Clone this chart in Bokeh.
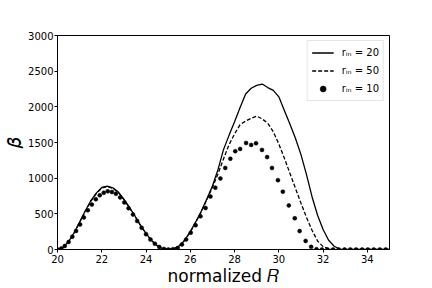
from bokeh.plotting import figure
from bokeh.models import Range1d, FixedTicker, Legend, LegendItem
from bokeh.embed import file_html
from bokeh.resources import INLINE

# r_in = 20 (solid)
solid_x = [20.0, 20.25, 20.5, 20.75, 21.0, 21.25, 21.5, 21.75, 22.0, 22.25, 22.5, 22.75,
           23.0, 23.25, 23.5, 23.75, 24.0, 24.25, 24.5, 24.75, 25.0, 25.25, 25.5, 25.75,
           26.0, 26.25, 26.5, 26.75, 27.0, 27.25, 27.5, 27.75, 28.0, 28.25, 28.5, 28.75,
           29.0, 29.25, 29.5, 29.75, 30.0, 30.25, 30.5, 30.75, 31.0, 31.25, 31.5, 31.75,
           32.0, 32.25, 32.5, 32.75, 33.0, 34.0, 35.0]
solid_y = [0, 30, 110, 235, 385, 540, 680, 790, 870, 890, 865, 805,
           705, 590, 470, 340, 225, 125, 55, 12, 0, 10, 50, 130,
           250, 390, 540, 710, 890, 1120, 1400, 1600, 1790, 1990, 2180, 2260,
           2300, 2320, 2270, 2230, 2140, 1950, 1760, 1560, 1330, 1050, 740, 480,
           280, 130, 45, 5, 0, 0, 0]

# r_in = 50 (dashed)
dash_x = [20.0, 20.25, 20.5, 20.75, 21.0, 21.25, 21.5, 21.75, 22.0, 22.25, 22.5, 22.75,
          23.0, 23.25, 23.5, 23.75, 24.0, 24.25, 24.5, 24.75, 25.0, 25.25, 25.5, 25.75,
          26.0, 26.25, 26.5, 26.75, 27.0, 27.25, 27.5, 27.75, 28.0, 28.25, 28.5, 28.75,
          29.0, 29.25, 29.5, 29.75, 30.0, 30.25, 30.5, 30.75, 31.0, 31.25, 31.5, 31.75,
          32.0, 32.25, 32.5, 33.0, 34.0, 35.0]
dash_y = [0, 28, 106, 230, 378, 532, 672, 782, 862, 882, 858, 800,
          700, 585, 465, 336, 222, 123, 54, 12, 0, 10, 50, 130,
          245, 385, 530, 700, 870, 1060, 1270, 1470, 1620, 1750, 1800, 1840,
          1870, 1830, 1770, 1650, 1480, 1280, 1070, 860, 650, 450, 270, 120,
          40, 8, 0, 0, 0, 0]

# r_in = 10 (dots)
dot_x = [20.00, 20.17, 20.33, 20.50, 20.67, 20.84, 21.02, 21.19, 21.37, 21.55, 21.73, 21.91,
         22.09, 22.27, 22.46, 22.64, 22.83, 23.02, 23.21, 23.41, 23.60, 23.80, 24.00, 24.20,
         24.40, 24.60, 24.81, 25.01, 25.22, 25.43, 25.62, 25.81, 26.02, 26.24, 26.46, 26.69,
         26.91, 27.13, 27.36, 27.58, 27.81, 28.03, 28.25, 28.52, 28.75, 28.97, 29.24, 29.47,
         29.69, 29.96, 30.18, 30.45, 30.72, 30.94, 31.21, 31.46, 31.70, 31.95, 32.20, 32.45,
         32.71, 32.97, 33.23, 33.49, 33.76, 34.02, 34.29, 34.56, 34.83]
dot_y = [0, 15, 50, 105, 180, 260, 350, 450, 550, 630, 705, 760,
         795, 815, 805, 780, 730, 660, 580, 490, 400, 305, 215, 140,
         80, 35, 8, 0, 5, 20, 70, 140, 235, 340, 465, 581,
         742, 867, 995, 1143, 1272, 1378, 1410, 1493, 1466, 1489, 1396, 1295,
         1143, 972, 811, 618, 438, 258, 120, 37, 5, 0, 0, 0,
         0, 0, 0, 0, 0, 0, 0, 0, 0]

labels = ["r\u1d62\u2099 = 20", "r\u1d62\u2099 = 50", "r\u1d62\u2099 = 10"]
x_ticks = [20, 22, 24, 26, 28, 30, 32, 34]
y_ticks = [0, 500, 1000, 1500, 2000, 2500, 3000]
x_title = "normalized \U0001D445"
y_title = "\U0001D6FD"

p = figure(width=432, height=288, output_backend="svg", toolbar_location=None,
           x_range=Range1d(20, 35), y_range=Range1d(0, 3000),
           min_border_left=54, min_border_right=43, min_border_top=35, min_border_bottom=36)

p.xgrid.visible = False
p.ygrid.visible = False
p.outline_line_color = "black"
p.outline_line_width = 1
p.background_fill_color = "white"
p.border_fill_color = "white"

for ax in (p.xaxis[0], p.yaxis[0]):
    ax.axis_line_color = "black"
    ax.major_tick_line_color = "black"
    ax.minor_tick_line_color = None
    ax.major_tick_out = 3
    ax.major_tick_in = 0
    ax.major_label_text_font = "DejaVu Sans"
    ax.major_label_text_font_size = "10px"
    ax.major_label_text_color = "black"
    ax.major_label_standoff = 2
    ax.axis_label_text_font = "DejaVu Sans"
    ax.axis_label_text_font_style = "normal"
    ax.axis_label_text_color = "black"

p.xaxis.ticker = FixedTicker(ticks=x_ticks)
p.yaxis.ticker = FixedTicker(ticks=y_ticks)
p.xaxis.axis_label = x_title
p.xaxis.axis_label_text_font_size = "17px"
p.xaxis.axis_label_standoff = 0
p.yaxis.axis_label = y_title
p.yaxis.axis_label_text_font_size = "19px"
p.yaxis.axis_label_standoff = 0
p.yaxis.major_label_standoff = 1

r1 = p.line(solid_x, solid_y, line_color="black", line_width=1.3)
r2 = p.line(dash_x, dash_y, line_color="black", line_width=1.3, line_dash="4 2")
r3 = p.scatter(dot_x, dot_y, size=4, fill_color="black", line_color="black", line_width=0.5)

legend = Legend(items=[LegendItem(label=labels[0], renderers=[r1]),
                       LegendItem(label=labels[1], renderers=[r2]),
                       LegendItem(label=labels[2], renderers=[r3])],
                location="top_right")
legend.label_text_font = "DejaVu Sans"
legend.label_text_font_size = "10px"
legend.label_text_color = "black"
legend.border_line_color = "#cccccc"
legend.border_line_width = 1
legend.background_fill_alpha = 0.8
legend.glyph_width = 22
legend.glyph_height = 15
legend.label_height = 15
legend.spacing = 3
legend.padding = 4
legend.margin = 5
legend.label_standoff = 8
p.add_layout(legend)

open("out.html", "w").write(file_html(p, INLINE))
